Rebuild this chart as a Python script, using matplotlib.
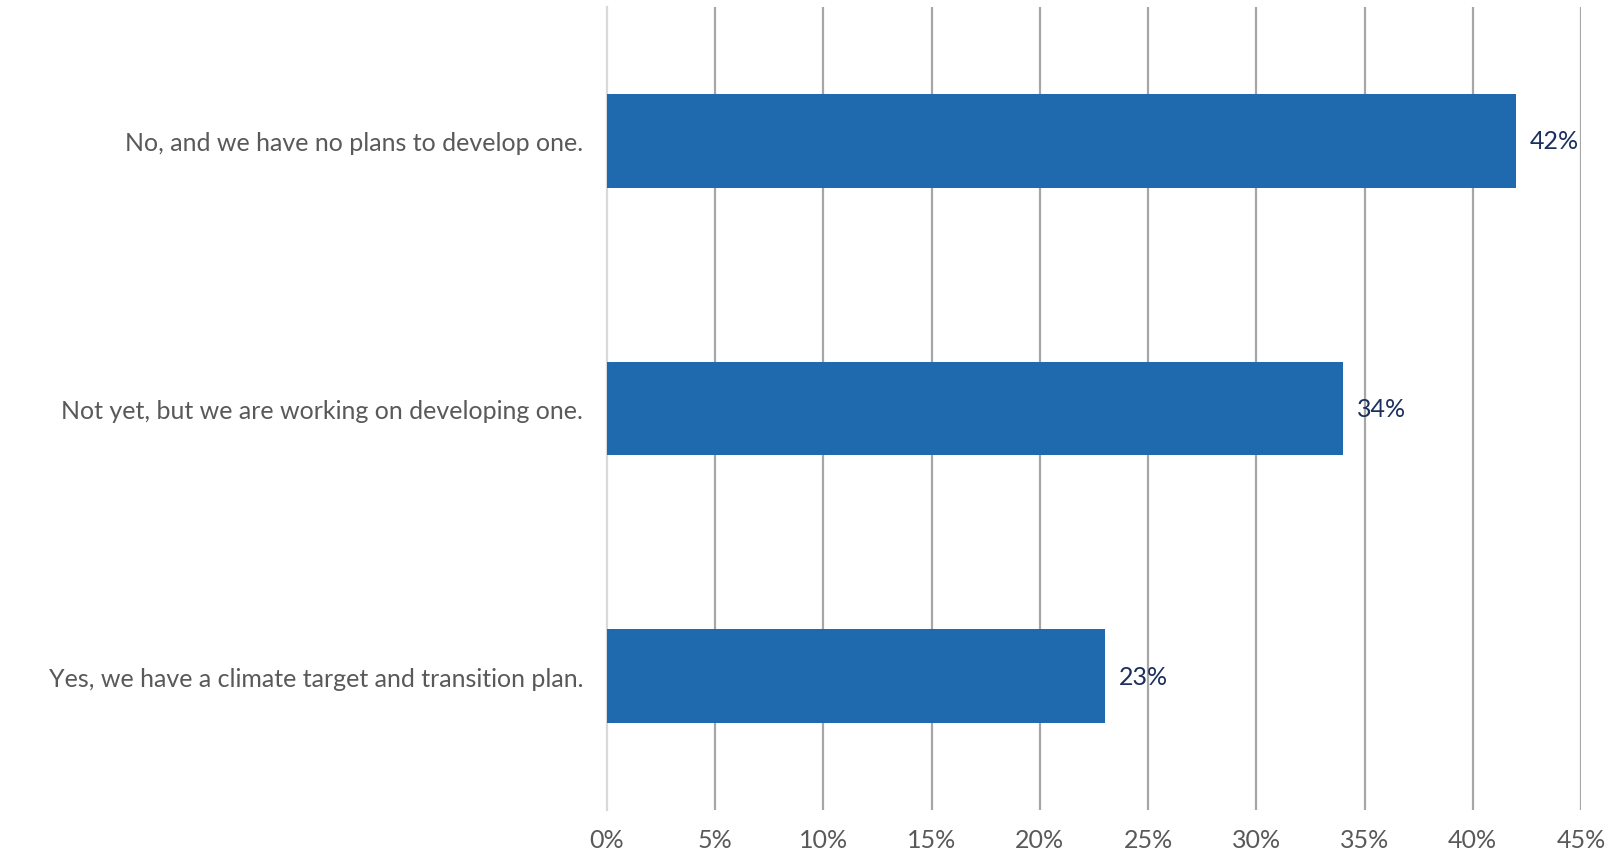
import matplotlib.pyplot as plt
from matplotlib.ticker import FuncFormatter

plt.rcParams['font.family'] = ['Lato', 'DejaVu Sans']

categories = [
    "No, and we have no plans to develop one.",
    "Not yet, but we are working on developing one.",
    "Yes, we have a climate target and transition plan.",
]
values = [42, 34, 23]
x_ticks = [0, 5, 10, 15, 20, 25, 30, 35, 40, 45]

bar_color = "#1f69ae"
text_grey = "#595959"
label_navy = "#1b2f5e"

fig = plt.figure(figsize=(16.1, 8.53), dpi=100)
ax = fig.add_axes([0.377, 0.0492, 0.605, 0.9414])

pos = list(range(len(categories)))
bars = ax.barh(pos, values, height=0.35, color=bar_color, zorder=3)

ax.set_xlim(0, 45)
ax.set_ylim(len(categories) - 0.5, -0.5)
ax.set_xticks(x_ticks)
ax.xaxis.set_major_formatter(FuncFormatter(lambda v, p: f"{v:.0f}%"))
ax.set_yticks(pos)
ax.set_yticklabels(categories)

ax.tick_params(axis='y', length=0, pad=17, labelsize=18, labelcolor=text_grey)
ax.tick_params(axis='x', length=0, pad=13, labelsize=18, labelcolor=text_grey)

ax.grid(axis='x', color="#a6a6a6", linewidth=1.6, zorder=0)
ax.set_axisbelow(True)
for s in ["top", "right", "bottom"]:
    ax.spines[s].set_visible(False)
ax.spines["left"].set_color("#d9d9d9")
ax.spines["left"].set_linewidth(1.6)
ax.xaxis.get_gridlines()[0].set_visible(False)

for b, v in zip(bars, values):
    ax.annotate(f"{v}%", xy=(b.get_width(), b.get_y() + b.get_height() / 2),
                xytext=(10, 0), textcoords="offset points",
                ha="left", va="center", fontsize=18, color=label_navy)

fig.savefig("out.png", dpi=100)
